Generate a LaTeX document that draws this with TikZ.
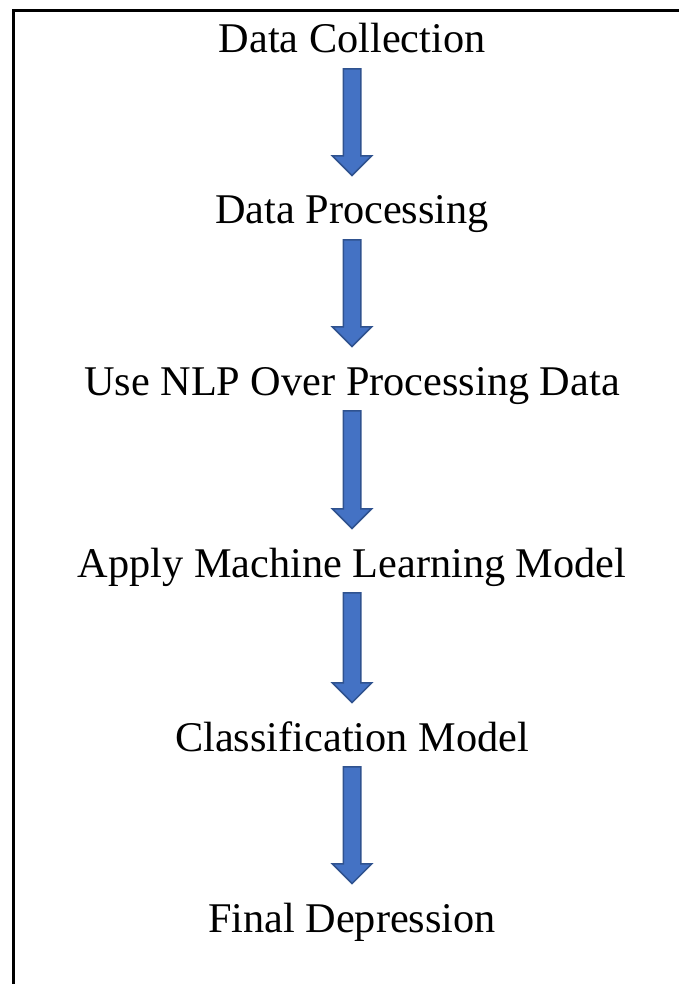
\documentclass[tikz,border=0pt]{standalone}
\usepackage{fontspec}
\setmainfont{Liberation Serif}
\usetikzlibrary{shapes.arrows, calc}

\begin{document}
\begin{tikzpicture}[x=1pt, y=-1pt,
  step_text/.style={anchor=base, inner sep=0pt, text height=30pt, text depth=9pt, font=\fontsize{42.3}{50}\selectfont},
  flow_arrow/.style={to path={let \p1=(\tikztostart), \p2=(\tikztotarget), \n1={veclen(\x2-\x1,\y2-\y1)} in
    node[single arrow, draw=arrow_line_color, fill=arrow_color, line width=1.5pt, inner sep=0pt, text width=0pt, text height=8pt, text depth=8pt, single arrow head extend=11pt, single arrow tip angle=90, minimum height=\n1, rotate=-90, anchor=tail] at (\p1) {}}}]
\definecolor{arrow_color}{RGB}{68,114,196}
\definecolor{arrow_line_color}{RGB}{47,82,143}

\useasboundingbox (0,0) rectangle (679,984);

% frame
\draw[line width=2.5pt] (13.3, 984) -- (13.3, 10.7) -- (679, 10.7);

\node[step_text] (collect) at (352, 53) {Data Collection};
\node[step_text] (process) at (352, 224) {Data Processing};
\node[step_text] (nlp) at (352, 395) {Use NLP Over Processing Data};
\node[step_text] (mlmodel) at (352, 577) {Apply Machine Learning Model};
\node[step_text] (classify) at (352, 751) {Classification Model};
\node[step_text] (final) at (352, 932) {Final Depression};

\path[flow_arrow] ([yshift=-6pt]collect.south) to ([yshift=19pt]process.north);
\path[flow_arrow] ([yshift=-6pt]process.south) to ([yshift=19pt]nlp.north);
\path[flow_arrow] ([yshift=-6pt]nlp.south) to ([yshift=19pt]mlmodel.north);
\path[flow_arrow] ([yshift=-6pt]mlmodel.south) to ([yshift=19pt]classify.north);
\path[flow_arrow] ([yshift=-6pt]classify.south) to ([yshift=19pt]final.north);

\end{tikzpicture}
\end{document}
